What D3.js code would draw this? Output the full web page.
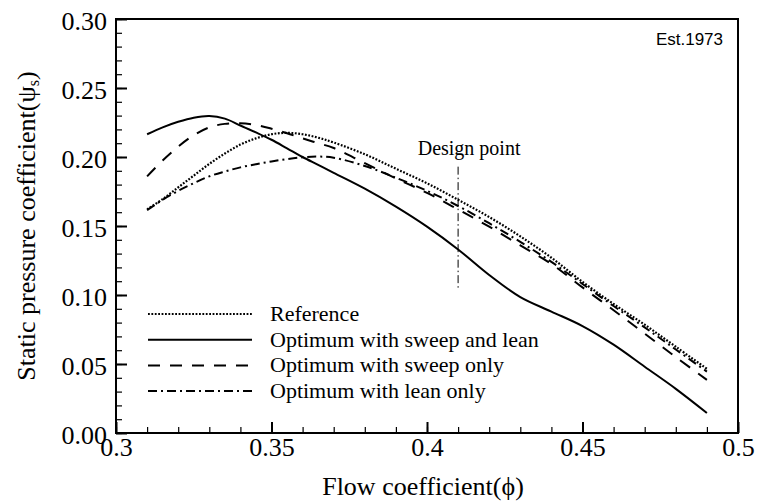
<!DOCTYPE html>
<html><head><meta charset="utf-8">
<script src="https://cdn.jsdelivr.net/npm/d3@7"></script>
<style>body{margin:0;background:#fff}svg{display:block}</style>
</head><body>
<svg id="c" width="759" height="504"></svg>
<script>
const phi = [0.31,0.315,0.32,0.325,0.33,0.335,0.34,0.345,0.35,0.355,0.36,0.365,0.37,0.38,0.39,0.40,0.41,0.42,0.43,0.44,0.45,0.46,0.47,0.48,0.49];
const reference   = [0.162,0.1695,0.178,0.1865,0.195,0.2025,0.209,0.2135,0.2165,0.2175,0.2165,0.2140,0.2105,0.202,0.1915,0.181,0.169,0.1565,0.1425,0.127,0.1095,0.0935,0.0785,0.0625,0.0465];
const sweepLean   = [0.2165,0.2215,0.2255,0.2285,0.2297,0.2278,0.2228,0.2178,0.2125,0.2063,0.2,0.1943,0.1885,0.177,0.164,0.1495,0.133,0.1145,0.0985,0.088,0.0775,0.064,0.048,0.032,0.0145];
const sweepOnly   = [0.186,0.1975,0.2075,0.2158,0.2215,0.224,0.2245,0.2232,0.2205,0.2172,0.2135,0.2100,0.2065,0.1955,0.1845,0.174,0.162,0.1495,0.136,0.1225,0.1055,0.089,0.072,0.055,0.0385];
const leanOnly    = [0.1615,0.169,0.1755,0.181,0.186,0.1895,0.1925,0.1948,0.1968,0.1985,0.1998,0.2003,0.1995,0.1935,0.185,0.1755,0.1645,0.152,0.1385,0.124,0.108,0.092,0.0765,0.0605,0.0445];
const seriesNames = ["Reference","Optimum with sweep and lean","Optimum with sweep only","Optimum with lean only"];
const xTicks = [0.3,0.35,0.4,0.45,0.5];
const yTicks = [0,0.05,0.10,0.15,0.20,0.25,0.30];
const designPhi = 0.41;

const series = [reference, sweepLean, sweepOnly, leanOnly];
const dashes = ["1.8,1.6", null, "12,10", "9,4,2,4"];

const svg = d3.select("#c");
const L=116,R=738,T=19,B=433;
const x = d3.scaleLinear().domain([0.3,0.5]).range([L,R]);
const y = d3.scaleLinear().domain([0,0.30]).range([B,T]);
const serif = "'Liberation Serif','Times New Roman',serif";

// minor ticks
const xMinor = d3.range(0.30,0.5001,0.01);
const yMinor = d3.range(0,0.3001,0.01);
svg.append("g").attr("transform",`translate(0,${B})`)
  .call(d3.axisBottom(x).tickValues(xMinor).tickSize(-6).tickFormat(""))
  .call(g=>g.select(".domain").remove())
  .call(g=>g.selectAll("line").attr("stroke","#000").attr("stroke-width",1.2));
svg.append("g").attr("transform",`translate(${L},0)`)
  .call(d3.axisLeft(y).tickValues(yMinor).tickSize(-6).tickFormat(""))
  .call(g=>g.select(".domain").remove())
  .call(g=>g.selectAll("line").attr("stroke","#000").attr("stroke-width",1.2));
// major
const xa = svg.append("g").attr("transform",`translate(0,${B})`)
  .call(d3.axisBottom(x).tickValues(xTicks).tickSize(-11).tickPadding(5).tickFormat(d3.format("")))
  .call(g=>g.select(".domain").remove());
xa.selectAll("line").attr("stroke","#000").attr("stroke-width",2);
xa.selectAll("text").attr("font-family",serif).attr("font-size",26).attr("fill","#000").attr("dy","0.71em");
const ya = svg.append("g").attr("transform",`translate(${L},0)`)
  .call(d3.axisLeft(y).tickValues(yTicks).tickSize(-11).tickPadding(9).tickFormat(d3.format(".2f")))
  .call(g=>g.select(".domain").remove());
ya.selectAll("line").attr("stroke","#000").attr("stroke-width",2);
ya.selectAll("text").attr("font-family",serif).attr("font-size",26).attr("fill","#000").attr("dy","0.4em");

// frame
svg.append("rect").attr("x",L).attr("y",T).attr("width",R-L).attr("height",B-T)
  .attr("fill","none").attr("stroke","#000").attr("stroke-width",2);

// curves
const line = d3.line().x((d,i)=>x(phi[i])).y(d=>y(d)).curve(d3.curveCatmullRom);
series.forEach((s,k)=>{
  svg.append("path").attr("d",line(s)).attr("fill","none").attr("stroke","#000")
    .attr("stroke-width",k===0?2.2:2).attr("stroke-dasharray",dashes[k]);
});

// design point
svg.append("line").attr("x1",x(designPhi)).attr("x2",x(designPhi)).attr("y1",y(0.193)).attr("y2",y(0.104))
  .attr("stroke","#000").attr("stroke-width",1).attr("stroke-dasharray","8,3,1.5,3");
svg.append("text").attr("x",x(designPhi)+11).attr("y",155).attr("text-anchor","middle")
  .attr("font-family",serif).attr("font-size",20).text("Design point");

// legend
const ly0=314, ldy=25.7;
seriesNames.forEach((n,k)=>{
  const yy = ly0+k*ldy;
  svg.append("line").attr("x1",148).attr("x2",252).attr("y1",yy).attr("y2",yy)
    .attr("stroke","#000").attr("stroke-width",k===0?2.2:2).attr("stroke-dasharray",dashes[k]);
  svg.append("text").attr("x",270).attr("y",yy+7).attr("font-family",serif).attr("font-size",22).text(n);
});

// axis titles
svg.append("text").attr("x",(L+R)/2-4).attr("y",495).attr("text-anchor","middle")
  .attr("font-family",serif).attr("font-size",26).text("Flow coefficient(ϕ)");
const yt = svg.append("text").attr("transform",`translate(35,${(T+B)/2}) rotate(-90)`).attr("text-anchor","middle")
  .attr("font-family",serif).attr("font-size",26);
yt.append("tspan").text("Static pressure coefficient(ψ");
yt.append("tspan").attr("font-size",16).attr("dy",4).text("s");
yt.append("tspan").attr("dy",-4).text(")");

svg.append("text").attr("x",723).attr("y",45).attr("text-anchor","end")
  .attr("font-family","'Liberation Sans',Arial,sans-serif").attr("font-size",17).text("Est.1973");
</script>
</body></html>
